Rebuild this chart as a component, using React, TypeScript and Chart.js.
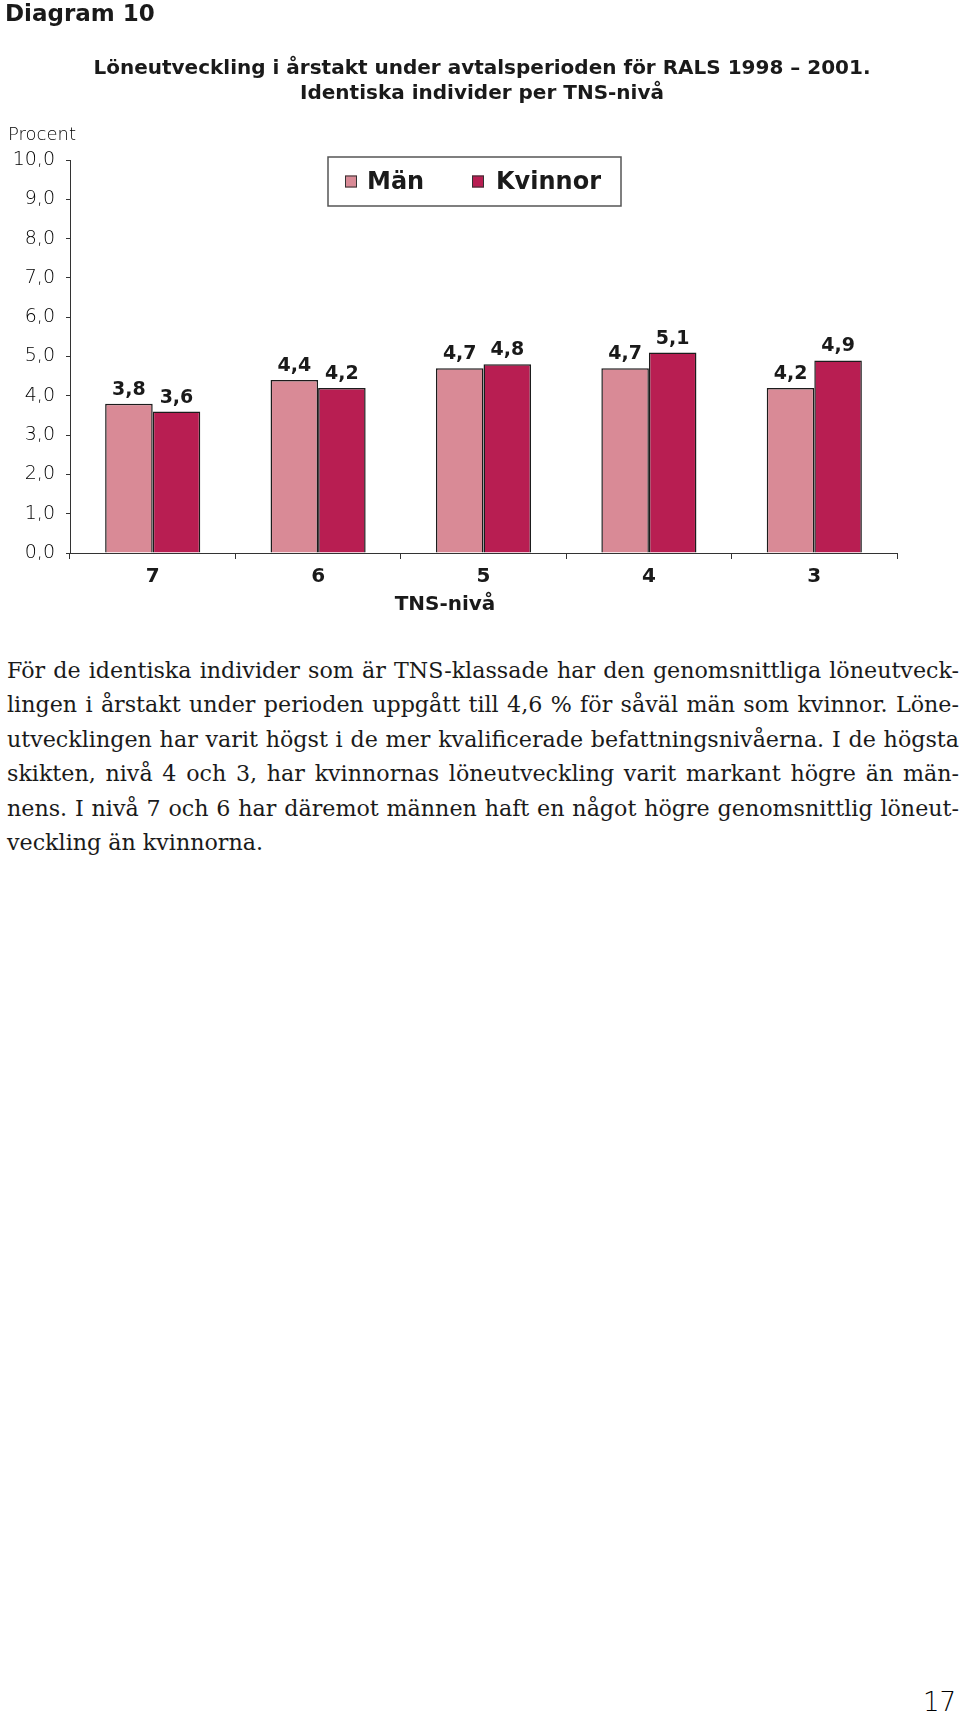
import React, { useEffect, useRef } from "react";
import { Chart, registerables } from "chart.js";

Chart.register(...registerables);

const categories = ["7", "6", "5", "4", "3"];
const seriesNames = ["Män", "Kvinnor"];
const menValues = [3.8, 4.4, 4.7, 4.7, 4.2];
const womenValues = [3.6, 4.2, 4.8, 5.1, 4.9];
const seriesColors = ["#D98A96", "#B81E52"];
const yMin = 0;
const yMax = 10;
const yStep = 1;

const chartTitle = [
  "Löneutveckling i årstakt under avtalsperioden för RALS 1998 – 2001.",
  "Identiska individer per TNS-nivå",
];
const paragraphLines = [
  "För de identiska individer som är TNS-klassade har den genomsnittliga löneutveck-",
  "lingen i årstakt under perioden uppgått till 4,6 % för såväl män som kvinnor. Löne-",
  "utvecklingen har varit högst i de mer kvalificerade befattningsnivåerna. I de högsta",
  "skikten, nivå 4 och 3, har kvinnornas löneutveckling varit markant högre än män-",
  "nens. I nivå 7 och 6 har däremot männen haft en något högre genomsnittlig löneut-",
  "veckling än kvinnorna.",
];

const fmt = (v: number) => v.toFixed(1).replace(".", ",");

const BOLD = "'DejaVu Sans', sans-serif";
const LIGHT = "'DejaVu Sans', sans-serif";

const valueLabelPlugin = {
  id: "valueLabels",
  afterDatasetsDraw(chart: any) {
    const ctx = chart.ctx;
    ctx.save();
    ctx.font = `bold 19px ${BOLD}`;
    ctx.fillStyle = "#1a1a1a";
    ctx.textAlign = "center";
    ctx.textBaseline = "alphabetic";
    chart.data.datasets.forEach((ds: any, i: number) => {
      const meta = chart.getDatasetMeta(i);
      meta.data.forEach((bar: any, j: number) => {
        ctx.fillText(fmt(ds.data[j]), bar.x, bar.y - 9);
      });
    });
    ctx.restore();
  },
};

const boxedLegendPlugin = {
  id: "boxedLegend",
  afterDraw(chart: any) {
    const ctx = chart.ctx;
    ctx.save();
    const bx = 328, by = 157, bw = 293, bh = 49;
    ctx.strokeStyle = "#555";
    ctx.lineWidth = 1.5;
    ctx.strokeRect(bx, by, bw, bh);
    const items = [
      { sq: 345, tx: 367 },
      { sq: 472, tx: 496 },
    ];
    ctx.font = `bold 24px ${BOLD}`;
    ctx.textBaseline = "middle";
    ctx.textAlign = "left";
    chart.data.datasets.forEach((ds: any, i: number) => {
      const it = items[i];
      const cy = by + bh / 2;
      ctx.fillStyle = ds.backgroundColor;
      ctx.fillRect(it.sq, cy - 6, 12, 12);
      ctx.strokeStyle = "#333";
      ctx.lineWidth = 1;
      ctx.strokeRect(it.sq + 0.5, cy - 5.5, 11, 11);
      ctx.fillStyle = "#1a1a1a";
      ctx.fillText(ds.label, it.tx, cy + 1);
    });
    ctx.restore();
  },
};

function BarChart() {
  const ref = useRef<HTMLCanvasElement>(null);
  useEffect(() => {
    if (!ref.current) return;
    const chart = new Chart(ref.current, {
      type: "bar",
      data: {
        labels: categories,
        datasets: [
          {
            label: seriesNames[0],
            data: menValues,
            backgroundColor: seriesColors[0],
            borderColor: "#1c1c1c",
            borderWidth: 1.5,
            categoryPercentage: 0.575,
            barPercentage: 1.0,
          },
          {
            label: seriesNames[1],
            data: womenValues,
            backgroundColor: seriesColors[1],
            borderColor: "#1c1c1c",
            borderWidth: 1.5,
            categoryPercentage: 0.575,
            barPercentage: 1.0,
          },
        ],
      },
      options: {
        responsive: false,
        animation: false,
        layout: { padding: { top: 160, right: 63, left: 0, bottom: 0 } },
        plugins: {
          legend: { display: false },
          title: { display: false },
          tooltip: { enabled: false },
        },
        scales: {
          x: {
            grid: {
              display: true,
              drawOnChartArea: false,
              drawTicks: true,
              tickLength: 6,
              color: "#333",
              offset: true,
            },
            border: { display: true, color: "#333", width: 1 },
            ticks: {
              color: "#1a1a1a",
              font: { family: BOLD, size: 20, weight: "bold" },
              padding: 6,
            },
            afterFit(scale: any) {
              scale.height = 87;
            },
          },
          y: {
            min: yMin,
            max: yMax,
            grid: {
              display: true,
              drawOnChartArea: false,
              drawTicks: true,
              tickLength: 4,
              color: "#333",
            },
            border: { display: true, color: "#333", width: 1 },
            ticks: {
              stepSize: yStep,
              color: "#000",
              font: { family: LIGHT, size: 19, weight: "200" as any },
              padding: 11,
              callback: (v: any) => fmt(Number(v)),
            },
            afterFit(scale: any) {
              scale.width = 70;
            },
          },
        },
      },
      plugins: [valueLabelPlugin, boxedLegendPlugin],
    } as any);
    return () => chart.destroy();
  }, []);
  return <canvas ref={ref} width={960} height={640} style={{ display: "block" }} />;
}

export default function App() {
  return (
    <div
      style={{
        position: "absolute",
        left: 0,
        top: 0,
        width: 960,
        height: 1716,
        background: "#fff",
        overflow: "hidden",
        color: "#1a1a1a",
      }}
    >
      <div style={{ position: "absolute", left: 0, top: 0, width: 960, height: 640 }}>
        <BarChart />
      </div>
      <div
        style={{
          position: "absolute",
          left: 5,
          top: 2,
          font: `bold 23px/23px ${BOLD}`,
          whiteSpace: "nowrap",
        }}
      >
        Diagram 10
      </div>
      {chartTitle.map((t, i) => (
        <div
          key={i}
          style={{
            position: "absolute",
            left: 2,
            width: 960,
            top: 56.5 + i * 25,
            textAlign: "center",
            font: `bold 20px/20px ${BOLD}`,
            whiteSpace: "nowrap",
          }}
        >
          {t}
        </div>
      ))}
      <div
        style={{
          position: "absolute",
          left: 8,
          top: 125,
          font: `200 18px/18px ${LIGHT}`,
          color: "#000",
          whiteSpace: "nowrap",
        }}
      >
        Procent
      </div>
      <div
        style={{
          position: "absolute",
          left: 245,
          width: 400,
          top: 593,
          textAlign: "center",
          font: `bold 20px/20px ${BOLD}`,
          whiteSpace: "nowrap",
        }}
      >
        TNS-nivå
      </div>
      <div style={{ position: "absolute", left: 7, top: 653, width: 952 }}>
        {paragraphLines.map((line, i) => (
          <div
            key={i}
            style={{
              height: 34.4,
              font: `22.2px/34.4px 'DejaVu Serif', serif`,
              whiteSpace: "nowrap",
              textAlign: i < paragraphLines.length - 1 ? "justify" : "left",
              textAlignLast: i < paragraphLines.length - 1 ? "justify" : "left",
            } as any}
          >
            {line}
          </div>
        ))}
      </div>
      <div
        style={{
          position: "absolute",
          right: 4,
          top: 1689,
          font: `200 26px/26px ${LIGHT}`,
          color: "#000",
        }}
      >
        17
      </div>
    </div>
  );
}
